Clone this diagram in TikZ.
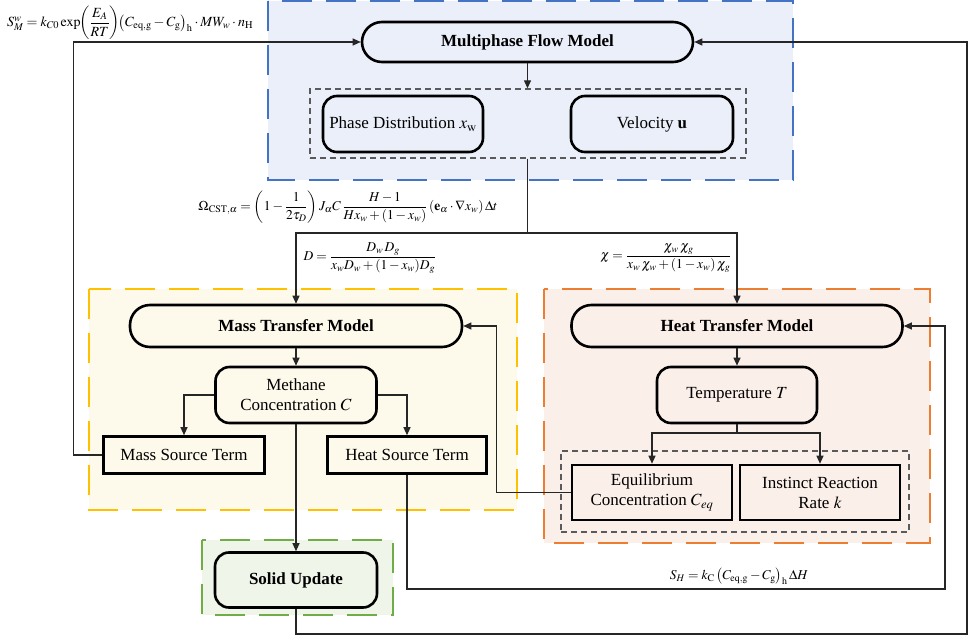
\documentclass[tikz,border=0pt]{standalone}
\usepackage{amsmath}
\usepackage{mathptmx}
\usepackage{fontspec}
\setmainfont{Liberation Serif}
\usetikzlibrary{arrows.meta,calc}
\definecolor{bluefill}{HTML}{EBEFF9}
\definecolor{blueline}{HTML}{4472C4}
\definecolor{yellowfill}{HTML}{FDF9EB}
\definecolor{yellowline}{HTML}{FFC000}
\definecolor{orangefill}{HTML}{FBEFEA}
\definecolor{orangeline}{HTML}{ED7D31}
\definecolor{greenfill}{HTML}{EFF5E9}
\definecolor{greenline}{HTML}{70AD47}
\definecolor{grayline}{HTML}{5A5A5A}
\begin{document}
\begin{tikzpicture}[x=1pt,y=-1pt,
  txt/.style={font=\fontsize{17}{20}\selectfont, inner sep=0pt, align=center},
  conn/.style={line width=1.2pt, draw=black!85},
  arr/.style={conn, -{Triangle[length=8pt,width=7pt]}},
  pill/.style={txt, draw, line width=2.6pt, rounded corners=20pt, font=\fontsize{17}{20}\selectfont\bfseries},
  rbox/.style={txt, draw, line width=2.6pt, rounded corners=14pt},
  sbox/.style={txt, draw, line width=2.6pt},
  region/.style={line width=2.2pt, dash pattern=on 30pt off 14pt},
  grp/.style={draw=grayline, line width=1.3pt, dash pattern=on 6pt off 4pt, inner sep=0pt},
  formula/.style={inner sep=0pt, font=\fontsize{13.5}{16}\selectfont}
]
\useasboundingbox (0,0) rectangle (970,636);
\fill[white] (0,0) rectangle (970,636);

% regions
\draw[region, draw=blueline, fill=bluefill] (268,1) rectangle (793,180);
\draw[region, draw=yellowline, fill=yellowfill] (89,289) rectangle (517,510);
\draw[region, draw=orangeline, fill=orangefill] (544,289) rectangle (930,543);
\draw[region, draw=greenline, fill=greenfill] (202,540) rectangle (393,615);

% multiphase flow
\node[pill, fill=bluefill, minimum width=331pt, minimum height=40pt] (mfm) at (527.5,42) {Multiphase Flow Model};
\node[grp, minimum width=436pt, minimum height=69pt] (flowgrp) at (528,123.5) {};
\node[rbox, fill=bluefill, minimum width=160pt, minimum height=56pt] (phase) at (403,124) {Phase Distribution $x_{\mathrm{w}}$};
\node[rbox, fill=bluefill, minimum width=162pt, minimum height=56pt] (vel) at (652,124) {Velocity $\mathbf{u}$};

% mass transfer
\node[pill, fill=yellowfill, minimum width=332pt, minimum height=42pt] (mtm) at (296,326) {Mass Transfer Model};
\node[rbox, fill=yellowfill, minimum width=161pt, minimum height=56pt] (meth) at (296,395) {Methane\\Concentration $C$};
\node[sbox, fill=yellowfill, minimum width=161pt, minimum height=37pt] (mst) at (184,455) {Mass Source Term};
\node[sbox, fill=yellowfill, minimum width=159pt, minimum height=37pt] (hst) at (407,455) {Heat Source Term};

% heat transfer
\node[pill, fill=orangefill, minimum width=331pt, minimum height=42pt] (htm) at (737,326) {Heat Transfer Model};
\node[rbox, fill=orangefill, minimum width=160pt, minimum height=56pt] (temp) at (737,395) {Temperature $T$};
\node[grp, minimum width=348pt, minimum height=81pt] (heatgrp) at (735,491.5) {};
\node[sbox, fill=orangefill, minimum width=160pt, minimum height=55pt] (eq) at (652,492.5) {Equilibrium\\Concentration $C_{eq}$};
\node[sbox, fill=orangefill, minimum width=160pt, minimum height=55pt] (ir) at (820,492.5) {Instinct Reaction\\Rate $k$};

% solid update
\node[rbox, fill=greenfill, minimum width=162pt, minimum height=55pt, font=\fontsize{17}{20}\selectfont\bfseries] (su) at (296,580) {Solid Update};

% formulas
\node[formula, font=\fontsize{14}{16}\selectfont] (fsm) at (130,23) {$S_M^{w} = k_{C0}\exp\!\biggl(\dfrac{E_A}{RT}\biggr)\!\bigl(C_{\mathrm{eq,g}}-C_{\mathrm{g}}\bigr)_{\mathrm{h}}\cdot MW_{w}\cdot n_{\mathrm{H}}$};
\node[formula] (fom) at (348,207) {$\Omega_{\mathrm{CST},\alpha}=\left(1-\dfrac{1}{2\tau_D}\right)J_\alpha C\,\dfrac{H-1}{Hx_w+(1-x_w)}\left(\mathbf{e}_\alpha\cdot\nabla x_w\right)\Delta t$};
\node[formula] (fd) at (370,258) {$D=\dfrac{D_w\, D_g}{x_w D_w+(1-x_w)D_g}$};
\node[formula] (fchi) at (666,258) {$\chi=\dfrac{\chi_w\,\chi_g}{x_w\,\chi_w+(1-x_w)\,\chi_g}$};
\node[formula] (fsh) at (739,576) {$S_H=k_{\mathrm{C}}\left(C_{\mathrm{eq,g}}-C_{\mathrm{g}}\right)_{\mathrm{h}}\Delta H$};

% coordinates
\coordinate (j1) at (527.5,233);
\coordinate (tj) at (737,433);
\coordinate (rr) at (967,634);
\coordinate (hr) at (945,589);

% connectors
\draw[arr] (mfm.south) -- (flowgrp.north -| mfm.south);
\draw[conn] (flowgrp.south -| mfm.south) -- (j1);
\draw[arr] (j1) -| (mtm.north);
\draw[arr] (j1) -| (htm.north);

\draw[arr] (mtm.south) -- (meth.north);
\draw[arr] (meth.west) -| (mst.north);
\draw[arr] (meth.east) -| (hst.north);
\draw[arr] (mst.west) -- ++(-28.5,0) |- (mfm.west);
\draw[arr] (meth.south) -- (su.north);
\draw[arr] (su.south) |- (rr) |- (mfm.east);
\draw[arr] (hst.south) |- (hr) |- (htm.east);

\draw[arr] (htm.south) -- (temp.north);
\draw[conn] (temp.south) -- (tj);
\draw[arr] (tj) -| (eq.north);
\draw[arr] (tj) -| (ir.north);
\draw[arr] (eq.west) -- ++(-74,0) |- (mtm.east);
\end{tikzpicture}
\end{document}
